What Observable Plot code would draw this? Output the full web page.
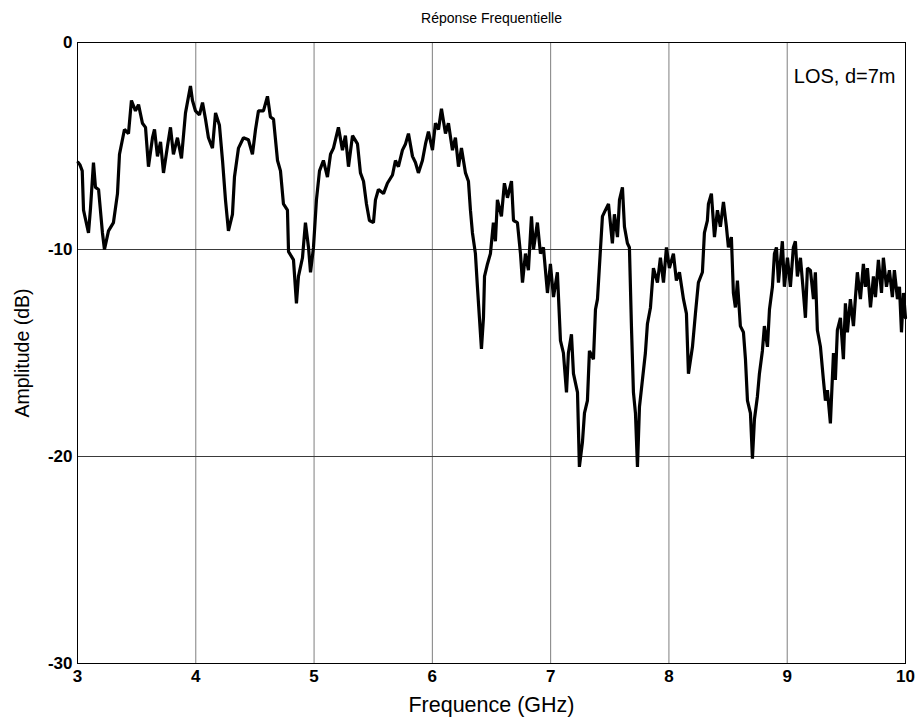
<!DOCTYPE html>
<html>
<head>
<meta charset="utf-8">
<script src="https://cdn.jsdelivr.net/npm/d3@7"></script>
<script src="https://cdn.jsdelivr.net/npm/@observablehq/plot@0.6"></script>
<style>
  html, body { margin: 0; padding: 0; background: #fff; }
  svg { display: block; }
</style>
</head>
<body>
<div id="chart"></div>
<script>
const title = "Réponse Frequentielle";
const xLabel = "Frequence (GHz)";
const yLabel = "Amplitude (dB)";
const annotation = "LOS, d=7m";
const xTicks = [3, 4, 5, 6, 7, 8, 9, 10];
const yTicks = [0, -10, -20, -30];
const xGrid = [4, 5, 6, 7, 8, 9];
const yGrid = [-10, -20];

const freq = [
  3.006, 3.020, 3.040, 3.051, 3.070, 3.093, 3.110, 3.135, 3.152, 3.178, 3.211, 3.228, 3.262, 3.304, 3.338, 3.355,
  3.397, 3.431, 3.456, 3.490, 3.516, 3.549, 3.575, 3.600, 3.634, 3.651, 3.676, 3.702, 3.727, 3.761, 3.786,
  3.811, 3.845, 3.879, 3.913, 3.955, 3.972, 3.997, 4.031, 4.057, 4.082, 4.107, 4.141, 4.167, 4.200, 4.226,
  4.251, 4.276, 4.310, 4.327, 4.361, 4.403, 4.445, 4.479, 4.505, 4.530, 4.572, 4.606, 4.631, 4.657, 4.691,
  4.716, 4.741, 4.775, 4.784, 4.826, 4.851, 4.868, 4.902, 4.927, 4.953, 4.970, 4.995, 5.020, 5.046, 5.079,
  5.113, 5.139, 5.164, 5.206, 5.240, 5.265, 5.291, 5.325, 5.367, 5.392, 5.418, 5.443, 5.468, 5.502, 5.519,
  5.544, 5.587, 5.620, 5.663, 5.688, 5.713, 5.747, 5.773, 5.798, 5.832, 5.857, 5.882, 5.916, 5.942, 5.967,
  6.001, 6.026, 6.052, 6.077, 6.111, 6.136, 6.170, 6.195, 6.221, 6.246, 6.280, 6.305, 6.322, 6.339, 6.364,
  6.381, 6.398, 6.415, 6.432, 6.441, 6.466, 6.491, 6.516, 6.533, 6.550, 6.584, 6.609, 6.635, 6.669, 6.686,
  6.719, 6.745, 6.762, 6.787, 6.812, 6.838, 6.855, 6.888, 6.914, 6.939, 6.973, 6.998, 7.024, 7.057, 7.083,
  7.108, 7.134, 7.150, 7.176, 7.193, 7.227, 7.243, 7.269, 7.286, 7.311, 7.328, 7.362, 7.379, 7.396, 7.421,
  7.438, 7.463, 7.489, 7.522, 7.539, 7.565, 7.582, 7.607, 7.624, 7.649, 7.666, 7.683, 7.700, 7.717, 7.734,
  7.751, 7.776, 7.801, 7.818, 7.844, 7.869, 7.903, 7.928, 7.954, 7.979, 8.004, 8.038, 8.063, 8.089, 8.123,
  8.148, 8.165, 8.199, 8.224, 8.249, 8.283, 8.300, 8.325, 8.334, 8.359, 8.385, 8.410, 8.435, 8.461, 8.486,
  8.503, 8.528, 8.545, 8.562, 8.579, 8.604, 8.630, 8.647, 8.664, 8.689, 8.706, 8.723, 8.748, 8.765, 8.790,
  8.807, 8.833, 8.850, 8.875, 8.892, 8.909, 8.926, 8.959, 8.976, 9.002, 9.027, 9.052, 9.069, 9.086, 9.112,
  9.137, 9.154, 9.171, 9.196, 9.222, 9.238, 9.255, 9.281, 9.306, 9.323, 9.340, 9.365, 9.391, 9.407, 9.424,
  9.450, 9.475, 9.492, 9.509, 9.534, 9.560, 9.577, 9.593, 9.619, 9.644, 9.661, 9.678, 9.704, 9.729, 9.746,
  9.771, 9.797, 9.813, 9.839, 9.864, 9.889, 9.906, 9.932, 9.949, 9.966, 9.983, 10.000
];
const ampl = [
  -5.8, -5.9, -6.2, -8.1, -8.6, -9.2, -8.0, -5.8, -7.0, -7.1, -9.2, -10.0, -9.1, -8.7, -7.3, -5.4,
  -4.2, -4.4, -2.8, -3.3, -3.0, -3.9, -4.1, -6.0, -4.6, -4.2, -5.5, -4.8, -6.3, -5.0, -4.1,
  -5.4, -4.6, -5.6, -3.4, -2.1, -2.8, -3.3, -3.5, -2.9, -3.7, -4.6, -5.1, -3.4, -4.0, -5.7,
  -7.6, -9.1, -8.3, -6.5, -5.1, -4.6, -4.7, -5.4, -4.2, -3.3, -3.3, -2.6, -3.6, -3.7, -5.7,
  -6.2, -7.8, -8.1, -10.1, -10.5, -12.6, -11.3, -10.4, -8.7, -9.9, -11.1, -9.9, -7.6, -6.2, -5.7,
  -6.5, -5.4, -5.1, -4.1, -5.2, -4.5, -6.0, -4.5, -4.9, -6.3, -6.7, -7.8, -8.6, -8.7, -7.6,
  -7.1, -7.3, -6.8, -6.4, -5.7, -6.0, -5.2, -4.9, -4.4, -5.5, -5.8, -6.3, -5.7, -4.9, -4.3,
  -5.2, -3.9, -4.2, -3.2, -4.4, -3.9, -5.2, -4.6, -6.0, -5.1, -6.3, -6.7, -8.1, -9.2, -10.2,
  -11.8, -13.3, -14.8, -13.3, -11.3, -10.7, -10.2, -8.7, -9.6, -7.6, -8.4, -6.8, -7.5, -6.7, -8.6,
  -8.7, -10.2, -11.6, -10.2, -11.0, -8.4, -10.0, -8.7, -10.2, -9.9, -12.1, -10.7, -12.3, -11.1, -14.4,
  -15.0, -16.9, -15.0, -14.1, -16.0, -16.9, -20.5, -19.3, -17.9, -17.3, -14.9, -15.3, -12.9, -12.4, -10.0,
  -8.4, -8.1, -7.8, -9.7, -8.3, -9.4, -7.6, -7.0, -8.9, -9.7, -9.9, -13.7, -16.9, -17.9, -20.5,
  -17.6, -16.3, -15.0, -13.6, -12.8, -10.9, -11.6, -10.4, -11.6, -9.9, -10.9, -10.2, -11.5, -11.1, -12.4,
  -13.1, -16.0, -14.7, -13.1, -11.6, -11.1, -9.2, -8.6, -7.8, -7.3, -9.4, -8.1, -8.9, -7.7, -8.9,
  -9.9, -9.4, -12.1, -12.8, -11.5, -13.7, -14.0, -15.3, -17.3, -17.9, -20.1, -18.2, -17.1, -16.0, -14.9,
  -13.7, -14.7, -12.9, -11.8, -10.2, -9.9, -11.6, -9.6, -11.8, -10.4, -11.8, -9.9, -9.6, -11.3, -10.4,
  -12.1, -13.3, -10.9, -11.0, -12.4, -11.1, -13.9, -14.7, -16.3, -17.3, -16.8, -18.4, -15.0, -16.3, -13.9,
  -13.3, -15.3, -12.6, -14.0, -12.4, -13.7, -12.3, -11.1, -12.4, -10.7, -11.8, -10.9, -12.8, -11.3, -12.3,
  -10.5, -12.1, -10.4, -11.8, -11.0, -12.3, -11.0, -12.4, -11.8, -14.0, -12.1, -13.3
];

const data = freq.map((f, i) => ({f, a: ampl[i]}));

const chart = Plot.plot({
  width: 918,
  height: 718,
  marginLeft: 77,
  marginRight: 13,
  marginTop: 42,
  marginBottom: 55,
  style: {fontFamily: "'Liberation Sans', Arial, sans-serif", background: "#fff", color: "#000"},
  x: {domain: [3, 10], label: null},
  y: {domain: [-30, 0], label: null},
  marks: [
    Plot.ruleX(xGrid, {stroke: "#7f7f7f", strokeWidth: 1}),
    Plot.ruleY(yGrid, {stroke: "#3a3a3a", strokeWidth: 1}),
    Plot.axisX(xTicks, {tickSize: 0, tickPadding: 6, fontSize: 17, fontWeight: "bold", tickFormat: d => String(d)}),
    Plot.axisY(yTicks, {tickSize: 0, tickPadding: 5, fontSize: 17, fontWeight: "bold", tickFormat: d => String(d)}),
    Plot.line(data, {x: "f", y: "a", stroke: "#000", strokeWidth: 3.2, strokeLinejoin: "miter"}),
    Plot.frame({stroke: "#000", strokeWidth: 1}),
    Plot.text([title], {frameAnchor: "top", dy: -24, lineAnchor: "middle", textAnchor: "middle", fontSize: 14, fill: "#000"}),
    Plot.text([xLabel], {frameAnchor: "bottom", dy: 42, lineAnchor: "middle", textAnchor: "middle", fontSize: 21.5, fill: "#000"}),
    Plot.text([yLabel], {frameAnchor: "left", dx: -55, rotate: -90, lineAnchor: "middle", textAnchor: "middle", fontSize: 19.5, fill: "#000"}),
    Plot.text([annotation], {frameAnchor: "top-right", dx: -10, dy: 34, lineAnchor: "middle", textAnchor: "end", fontSize: 20, fill: "#000"})
  ]
});

document.getElementById("chart").appendChild(chart);
</script>
</body>
</html>
